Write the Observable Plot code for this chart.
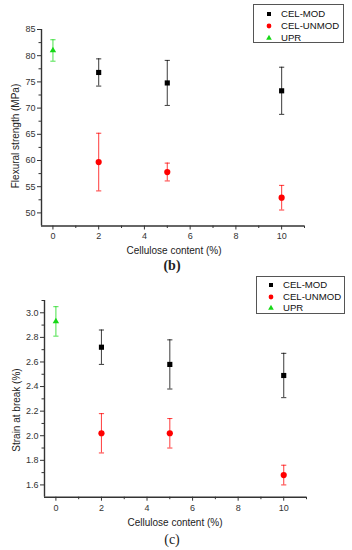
<!DOCTYPE html>
<html>
<head>
<meta charset="utf-8">
<script src="https://cdn.jsdelivr.net/npm/d3@7"></script>
<script src="https://cdn.jsdelivr.net/npm/@observablehq/plot@0.6"></script>
<style>
  body { margin: 0; background: #fff; }
  .panel { position: relative; width: 352px; height: 275px; overflow: hidden; font-family: "Liberation Sans", Arial, sans-serif; }
  .panel svg { position: absolute; left: 0; top: 0; }
  .ytitle, .xtitle, .caption { position: absolute; white-space: nowrap; color: #222; }
  .ytitle { font-size: 10px; transform: translate(-50%, -50%) rotate(-90deg); }
  .xtitle { font-size: 10px; transform: translate(-50%, -50%); }
  .caption { font-family: "Liberation Serif", "DejaVu Serif", serif; font-size: 14px; transform: translate(-50%, -50%); }
  .legend { position: absolute; border: 1px solid #555; background: #fff; box-sizing: border-box; font-size: 9.6px; color: #111; }
  .legend .row { position: absolute; left: 0; right: 0; height: 0; }
  .legend .row svg { position: absolute; top: -4px; }
  .legend .row span { position: absolute; top: -6px; line-height: 12px; white-space: nowrap; }
</style>
</head>
<body>
<div class="panel" id="panelB"></div>
<div class="panel" id="panelC"></div>
<script>
// ---------- data ----------
const series = ["CEL-MOD", "CEL-UNMOD", "UPR"];
const seriesColors = ["#000000", "#ff0000", "#16d816"];
const seriesSymbols = ["square", "circle", "triangle"];

const celluloseContent = [2, 5, 10];     // % cellulose for CEL-MOD / CEL-UNMOD
const uprContent = [0];                  // neat resin

// (b) flexural strength (MPa): mean and half error-bar
const flexModMean = [76.8, 74.8, 73.3];
const flexModErr = [2.6, 4.3, 4.5];
const flexUnmodMean = [59.7, 57.8, 52.9];
const flexUnmodErr = [5.5, 1.7, 2.35];
const flexUprMean = [81.0];
const flexUprErr = [2.05];

// (c) strain at break (%)
const strainModMean = [2.72, 2.58, 2.49];
const strainModErr = [0.14, 0.20, 0.18];
const strainUnmodMean = [2.02, 2.02, 1.68];
const strainUnmodErr = [0.16, 0.12, 0.08];
const strainUprMean = [2.93];
const strainUprErr = [0.12];

// axes
const xDomain = [-0.5, 11];
const xMajorTicks = [0, 2, 4, 6, 8, 10];
const xMinorTicks = [1, 3, 5, 7, 9, 11];
const flexDomain = [47.5, 85];
const flexMajorTicks = [50, 55, 60, 65, 70, 75, 80, 85];
const flexMinorTicks = [52.5, 57.5, 62.5, 67.5, 72.5, 77.5, 82.5];
const strainDomain = [1.5, 3.1];
const strainMajorTicks = [1.6, 1.8, 2.0, 2.2, 2.4, 2.6, 2.8, 3.0];
const strainMinorTicks = [1.7, 1.9, 2.1, 2.3, 2.5, 2.7, 2.9, 3.1];

// ---------- helpers ----------
function rows(name, xs, means, errs) {
  return xs.map((x, i) => ({series: name, x, mean: means[i], err: errs[i]}));
}
const capSymbol = {
  draw(ctx, size) {
    const w = Math.sqrt(size / Math.PI);
    ctx.moveTo(-w, 0);
    ctx.lineTo(w, 0);
  }
};
const markerR = {"CEL-MOD": 2.9, "CEL-UNMOD": 3.1, "UPR": 2.4};

function chart(data, cfg) {
  const marks = [
    Plot.axisY({ticks: cfg.yMinor, tickSize: 2.5, tickFormat: () => "", label: null}),
    Plot.axisY({ticks: cfg.yMajor, tickSize: 4, tickPadding: 2, tickFormat: cfg.yFormat, label: null}),
    Plot.axisX({ticks: xMinorTicks, tickSize: 2.5, tickFormat: () => "", label: null}),
    Plot.axisX({ticks: xMajorTicks, tickSize: 4, tickPadding: 3, label: null}),
    Plot.ruleX([xDomain[0]], {stroke: "#333", strokeWidth: 1.4}),
    Plot.ruleY([cfg.yDomain[0]], {stroke: "#333", strokeWidth: 1.4}),
    Plot.ruleX(data, {x: "x", y1: d => d.mean - d.err, y2: d => d.mean + d.err, stroke: "series", strokeWidth: 1.1, strokeOpacity: 0.7}),
    Plot.dot(data, {x: "x", y: d => d.mean - d.err, symbol: capSymbol, r: 2.6, stroke: "series", strokeWidth: 1.1, strokeOpacity: 0.7}),
    Plot.dot(data, {x: "x", y: d => d.mean + d.err, symbol: capSymbol, r: 2.6, stroke: "series", strokeWidth: 1.1, strokeOpacity: 0.7})
  ];
  for (const s of series) {
    marks.push(Plot.dot(data.filter(d => d.series === s), {x: "x", y: "mean", symbol: "series", fill: "series", r: markerR[s]}));
  }
  return Plot.plot({
    width: 352,
    height: 275,
    marginTop: cfg.mt, marginBottom: cfg.mb, marginLeft: cfg.ml, marginRight: cfg.mr,
    x: {domain: xDomain},
    y: {domain: cfg.yDomain},
    color: {domain: series, range: seriesColors},
    symbol: {domain: series, range: seriesSymbols},
    style: {fontFamily: "'Liberation Sans', Arial, sans-serif", fontSize: "9px", color: "#333", background: "transparent", overflow: "visible"},
    marks
  });
}

function addText(panel, cls, text, x, y, extra) {
  const d = document.createElement("div");
  d.className = cls;
  d.textContent = text;
  d.style.left = x + "px";
  d.style.top = y + "px";
  if (extra) Object.assign(d.style, extra);
  panel.appendChild(d);
}

function addLegend(panel, box) {
  const lg = document.createElement("div");
  lg.className = "legend";
  Object.assign(lg.style, {left: box.left + "px", top: box.top + "px", width: box.w + "px", height: box.h + "px"});
  series.forEach((s, i) => {
    const row = document.createElement("div");
    row.className = "row";
    row.style.top = (box.row0 + i * box.step) + "px";
    const sym = d3.symbol(seriesSymbols[i] === "square" ? d3.symbolSquare : seriesSymbols[i] === "circle" ? d3.symbolCircle : d3.symbolTriangle, [16, 18, 14][i])();
    row.innerHTML = `<svg width="8" height="8" style="left:${box.mx - 4}px" viewBox="-4 -4 8 8"><path d="${sym}" fill="${seriesColors[i]}"/></svg><span style="left:${box.tx}px">${s}</span>`;
    lg.appendChild(row);
  });
  panel.appendChild(lg);
}

// ---------- panel (b) ----------
const dataB = [
  ...rows("CEL-MOD", celluloseContent, flexModMean, flexModErr),
  ...rows("CEL-UNMOD", celluloseContent, flexUnmodMean, flexUnmodErr),
  ...rows("UPR", uprContent, flexUprMean, flexUprErr)
];
const pB = document.getElementById("panelB");
pB.appendChild(chart(dataB, {yDomain: flexDomain, yMajor: flexMajorTicks, yMinor: flexMinorTicks, yFormat: d3.format("d"), mt: 29, mb: 49.5, ml: 41, mr: 48}));
addText(pB, "ytitle", "Flexural strength (MPa)", 15, 136);
addText(pB, "xtitle", "Cellulose content (%)", 174, 250);
addText(pB, "caption", "(b)", 172, 266, {fontWeight: "bold"});
addLegend(pB, {left: 253, top: 4, w: 91, h: 39, row0: 8.5, step: 12, mx: 15, tx: 27});

// ---------- panel (c) ----------
const dataC = [
  ...rows("CEL-MOD", celluloseContent, strainModMean, strainModErr),
  ...rows("CEL-UNMOD", celluloseContent, strainUnmodMean, strainUnmodErr),
  ...rows("UPR", uprContent, strainUprMean, strainUprErr)
];
const pC = document.getElementById("panelC");
pC.appendChild(chart(dataC, {yDomain: strainDomain, yMajor: strainMajorTicks, yMinor: strainMinorTicks, yFormat: d3.format(".1f"), mt: 25, mb: 53.3, ml: 44, mr: 46}));
addText(pC, "ytitle", "Strain at break (%)", 16, 135);
addText(pC, "xtitle", "Cellulose content (%)", 175, 247);
addText(pC, "caption", "(c)", 172, 265);
addLegend(pC, {left: 256, top: 1, w: 89, h: 38, row0: 8, step: 11.7, mx: 14, tx: 26});
</script>
</body>
</html>
